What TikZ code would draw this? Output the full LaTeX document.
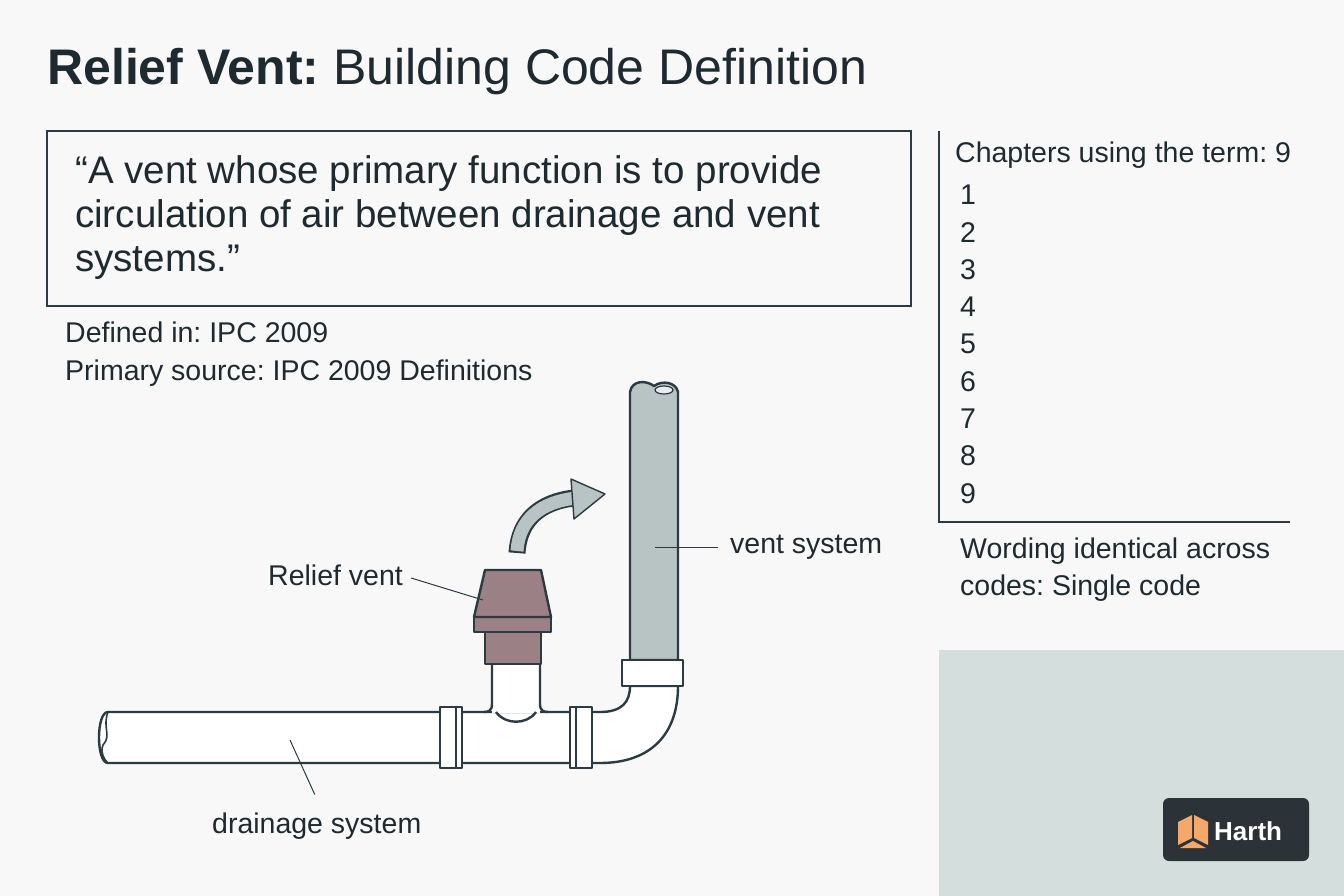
\documentclass[tikz,border=0pt]{standalone}
\usepackage{fontspec}
\setmainfont{Liberation Sans}
\frenchspacing
\definecolor{bgc}{HTML}{F7F8F7}
\definecolor{ink}{HTML}{1E2A30}
\definecolor{pipeline}{HTML}{2C3A42}
\definecolor{pipegray}{HTML}{B8C3C3}
\definecolor{mauve}{HTML}{9B8086}
\definecolor{panel}{HTML}{D3DEDD}
\definecolor{logobg}{HTML}{2B3338}
\definecolor{logoor}{HTML}{F4A96B}
\tikzset{
  txt/.style={font=\fontsize{28.5}{37.3}\selectfont, anchor=west, inner sep=0, text=ink, align=left},
  pipe/.style={draw=pipeline, line width=2.4pt, fill=white, line join=round},
  leader/.style={draw=pipeline, line width=1pt}
}
\begin{document}
\begin{tikzpicture}[x=1pt,y=-1pt]
  \fill[bgc] (0,0) rectangle (1344,896);
  \useasboundingbox (0,0) rectangle (1344,896);

  % title and quote
  \node[txt, font=\fontsize{50}{52}\selectfont] (title) at (47,72) {\textbf{Relief Vent:} Building Code Definition};
  \draw[pipeline, line width=1.2pt] (47,131) rectangle (911,306);
  \node[txt, font=\fontsize{38.5}{44}\selectfont] (quote) at (75,218) {“A vent whose primary function is to provide\\circulation of air between drainage and vent\\systems.”};
  \node[txt, font=\fontsize{28.5}{38}\selectfont] (defined) at (65,354) {Defined in: IPC 2009\\Primary source: IPC 2009 Definitions};

  % chapters panel
  \draw[pipeline, line width=1.2pt] (939,131) -- (939,522) -- (1290,522);
  \node[txt] (chapters) at (955,155) {Chapters using the term: 9};
  \foreach \n in {1,...,9}
    \node[txt] (ch\n) at (960,195+37.3*\n-37.3) {\n};
  \node[txt, font=\fontsize{28.5}{37}\selectfont] (wording) at (960,570) {Wording identical across\\codes: Single code};
  \fill[panel] (939,650) rectangle (1344,896);

  % logo
  \fill[logobg, rounded corners=6pt] (1163,798) rectangle (1309,861);
  \fill[logoor] (1192,815) -- (1178,822) -- (1178,845) -- (1192,838) -- cycle;
  \fill[logoor] (1194,815) -- (1208,822) -- (1208,845) -- (1194,838) -- cycle;
  \fill[logoor] (1193,841) -- (1180,848) -- (1206,848) -- cycle;
  \node[anchor=west, inner sep=0, text=white, font=\fontsize{26}{26}\selectfont\bfseries] (harth) at (1214,831) {Harth};

  % vertical vent pipe
  \draw[pipe, fill=pipegray] (630,660) -- (630,392) .. controls (632,380) and (646,380) .. (654,386)
    .. controls (662,380) and (676,382) .. (678,392) -- (678,660) -- cycle;
  \draw[pipeline, line width=1.2pt, fill=bgc!80!pipegray] (664,390) ellipse (9 and 4);
  % elbow
  \draw[pipe] (590,712) -- (600,712) .. controls (622,712) and (630,702) .. (630,686)
    -- (678,686) .. controls (678,735) and (650,763) .. (600,763) -- (590,763) -- cycle;
  \draw[pipe] (622,660) rectangle (683,686);
  % horizontal drainage pipe
  \draw[pipe] (108,712) -- (590,712) -- (590,763) -- (108,763) .. controls (96,763) and (96,712) .. (108,712);
  \draw[pipeline, line width=1.6pt] (108,712) .. controls (102,728) and (112,735) .. (103,745) .. controls (100,752) and (104,760) .. (108,763);
  % tee branch
  \fill[white] (492,664) rectangle (540,713);
  \draw[pipeline, line width=2.4pt] (492,664) -- (492,704) .. controls (492,711) and (488,712) .. (484,712)
    (540,664) -- (540,704) .. controls (540,711) and (544,712) .. (548,712);
  \draw[pipeline, line width=2.4pt] (496,712) .. controls (505,725) and (527,725) .. (536,712);
  % couplings
  \draw[pipe] (440,707) rectangle (462,768);
  \draw[pipeline, line width=1.2pt] (456,707) -- (456,768);
  \draw[pipe] (570,707) rectangle (592,768);
  \draw[pipeline, line width=1.2pt] (576,707) -- (576,768);
  % relief vent
  \draw[pipe, fill=mauve] (485,630) rectangle (541,664);
  \draw[pipe, fill=mauve] (474,617) rectangle (551,632);
  \draw[pipe, fill=mauve] (485,570) -- (541,570) -- (551,617) -- (474,617) -- cycle;
  % air arrow
  \draw[pipeline, line width=17pt] (517,553) .. controls (519,520) and (540,502) .. (574,498);
  \draw[pipegray, line width=13pt] (517,551) .. controls (519,520) and (540,502) .. (576,498);
  \draw[pipeline, line width=1.4pt, fill=pipegray, line join=round] (571,479) -- (605,494) -- (574,519) -- cycle;

  % labels
  \node[txt] (relief) at (268,575) {Relief vent};
  \coordinate (reliefend) at (483,600);
  \draw[leader] (relief.east) ++(8,3) -- (reliefend);
  \node[txt] (vent) at (730,547) {vent system};
  \coordinate (ventend) at (655,547);
  \draw[leader] (vent.west) ++(-12,0) -- (ventend);
  \node[txt] (drain) at (212,826) {drainage system};
  \coordinate (drainend) at (290,740);
  \draw[leader] (drain.north) ++(-2,-18) -- (drainend);
\end{tikzpicture}
\end{document}
